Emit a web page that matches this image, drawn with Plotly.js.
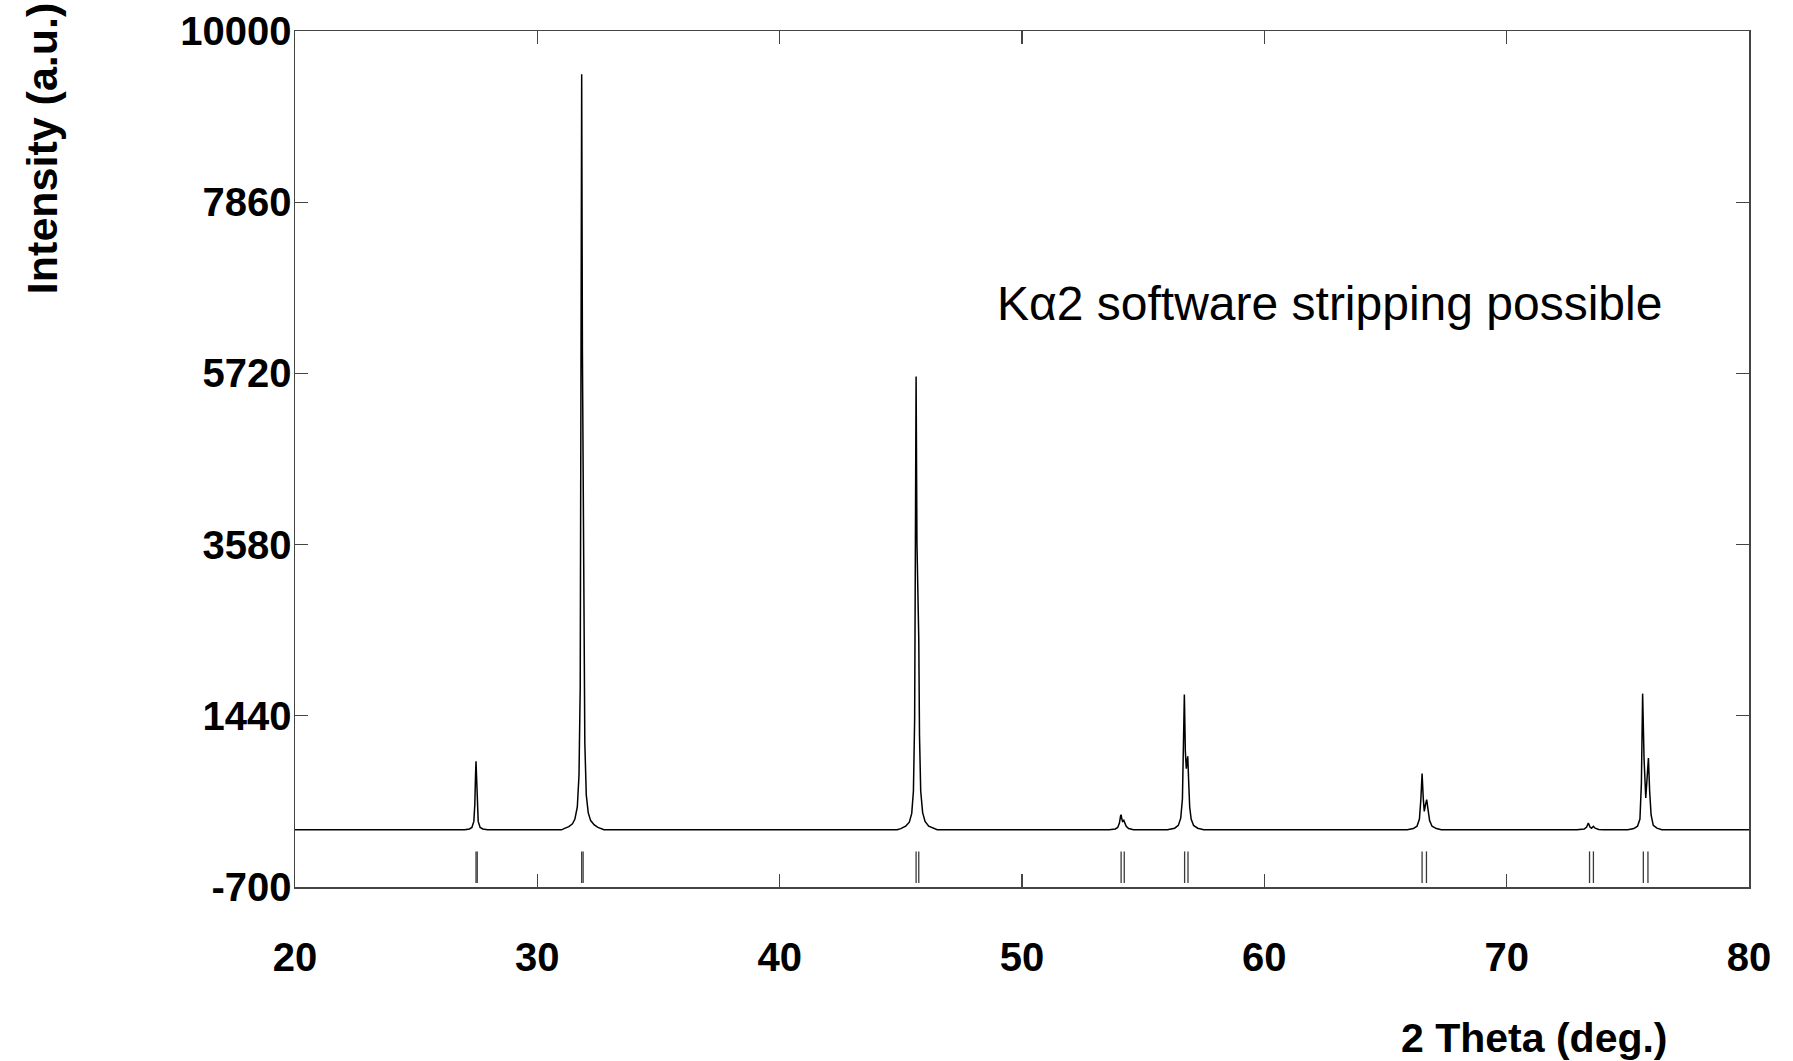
<!DOCTYPE html>
<html>
<head>
<meta charset="utf-8">
<script src="https://cdn.plot.ly/plotly-3.0.1.min.js"></script>
<style>
  html, body { margin: 0; padding: 0; background: #ffffff; }
  #chart { width: 1793px; height: 1061px; }
</style>
</head>
<body>
<div id="chart"></div>
<script>
// Measured diffraction pattern: 2θ (deg.) and intensity (a.u.)
const twoTheta = [
  20.0, 27.0, 27.2, 27.3, 27.38, 27.42, 27.45, 27.47, 27.49, 27.52, 27.56, 27.64, 27.75, 27.95,
  31.0, 31.1, 31.3, 31.45, 31.55, 31.65, 31.72, 31.77, 31.8, 31.83, 31.86, 31.89, 31.92, 31.96,
  32.02, 32.1, 32.2, 32.35, 32.5, 32.65, 32.75,
  44.85, 45.0, 45.2, 45.35, 45.45, 45.52, 45.57, 45.6, 45.63, 45.665, 45.69, 45.715, 45.74, 45.77,
  45.82, 45.9, 46.0, 46.15, 46.35, 46.5,
  53.6, 53.85, 53.95, 54.02, 54.07, 54.09, 54.12, 54.15, 54.2, 54.24, 54.3, 54.4, 54.6,
  56.0, 56.3, 56.45, 56.55, 56.62, 56.66, 56.7, 56.74, 56.78, 56.81, 56.84, 56.88, 56.92, 56.98,
  57.08, 57.25, 57.5,
  65.9, 66.15, 66.3, 66.4, 66.46, 66.51, 66.56, 66.6, 66.65, 66.7, 66.75, 66.82, 66.92, 67.1, 67.3,
  72.9, 73.2, 73.3, 73.37, 73.44, 73.5, 73.58, 73.65, 73.8, 74.0,
  75.0, 75.25, 75.4, 75.5, 75.56, 75.61, 75.67, 75.74, 75.79, 75.85, 75.9, 75.96, 76.05, 76.2, 76.4,
  80.0
];
const intensity = [
  15, 15, 25, 45, 120, 330, 700, 871, 700, 330, 120, 45, 25, 15,
  15, 30, 55, 90, 150, 300, 700, 1800, 5000, 9459, 6000, 4200, 2800, 1100,
  450, 230, 130, 75, 45, 30, 15,
  15, 30, 60, 110, 220, 500, 1400, 3500, 5682, 3600, 3150, 3181, 2400, 1200,
  500, 230, 120, 60, 30, 15,
  15, 25, 45, 100, 190, 204, 150, 120, 133, 110, 60, 30, 15,
  15, 35, 70, 160, 400, 1000, 1705, 1000, 780, 860, 933, 600, 300, 150,
  70, 35, 15,
  15, 30, 60, 150, 400, 717, 400, 245, 330, 392, 280, 130, 60, 30, 15,
  15, 25, 50, 100, 50, 35, 58, 35, 20, 15,
  15, 30, 60, 150, 600, 1717, 900, 413, 700, 913, 500, 200, 70, 35, 15,
  15
];

// Reference reflection positions (Kα1 / Kα2 pairs) shown as sticks below the pattern
const refPositions = [
  27.47, 27.52, 31.83, 31.89, 45.63, 45.74, 54.09, 54.22, 56.71, 56.85,
  66.51, 66.69, 73.42, 73.58, 75.64, 75.83
];
const refStickBottom = -650;
const refStickTop = -255;

// Axis ticks
const xTickVals = [20, 30, 40, 50, 60, 70, 80];
const xTickText = ['20', '30', '40', '50', '60', '70', '80'];
const yTickVals = [-700, 1440, 3580, 5720, 7860, 10000];
const yTickText = ['-700', '1440', '3580', '5720', '7860', '10000'];

const stickX = [];
const stickY = [];
refPositions.forEach(p => {
  stickX.push(p, p, null);
  stickY.push(refStickBottom, refStickTop, null);
});

const pattern = {
  x: twoTheta,
  y: intensity,
  type: 'scatter',
  mode: 'lines',
  line: { color: '#000000', width: 1.5 },
  hoverinfo: 'x+y'
};

const sticks = {
  x: stickX,
  y: stickY,
  type: 'scatter',
  mode: 'lines',
  line: { color: '#3a3a3a', width: 1.3 },
  hoverinfo: 'x'
};

const tickFont = { family: 'Liberation Sans, Arial, sans-serif', size: 40, color: '#000000', weight: 'bold' };

const layout = {
  width: 1793,
  height: 1061,
  margin: { l: 295, r: 44, t: 31, b: 174 },
  paper_bgcolor: '#ffffff',
  plot_bgcolor: '#ffffff',
  showlegend: false,
  xaxis: {
    range: [20, 80],
    tickmode: 'array',
    tickvals: xTickVals,
    ticktext: xTickText,
    ticks: 'inside',
    ticklen: 13,
    tickwidth: 1.3,
    tickcolor: '#444444',
    showline: true,
    linecolor: '#444444',
    linewidth: 1.5,
    mirror: 'ticks',
    showgrid: false,
    zeroline: false,
    tickfont: tickFont,
    ticklabelstandoff: 34
  },
  yaxis: {
    range: [-700, 10000],
    tickmode: 'array',
    tickvals: yTickVals,
    ticktext: yTickText,
    ticks: 'inside',
    ticklen: 13,
    tickwidth: 1.3,
    tickcolor: '#444444',
    showline: true,
    linecolor: '#444444',
    linewidth: 1.5,
    mirror: 'ticks',
    showgrid: false,
    zeroline: false,
    tickfont: tickFont,
    ticklabelstandoff: -6
  },
  annotations: [
    {
      text: 'Intensity (a.u.)',
      xref: 'paper', yref: 'paper',
      x: -0.174, y: 0.862,
      xanchor: 'center', yanchor: 'middle',
      textangle: -90,
      showarrow: false,
      font: { family: 'Liberation Sans, Arial, sans-serif', size: 43, color: '#000000', weight: 'bold' }
    },
    {
      text: '2 Theta (deg.)',
      xref: 'paper', yref: 'paper',
      x: 0.8528, y: -0.176,
      xanchor: 'center', yanchor: 'middle',
      showarrow: false,
      font: { family: 'Liberation Sans, Arial, sans-serif', size: 41, color: '#000000', weight: 'bold' }
    },
    {
      text: 'Kα2 software stripping possible',
      xref: 'x', yref: 'y',
      x: 48.89, y: 6595,
      xanchor: 'left', yanchor: 'middle',
      showarrow: false,
      font: { family: 'Liberation Sans, Arial, sans-serif', size: 48, color: '#000000' }
    }
  ]
};

Plotly.newPlot('chart', [pattern, sticks], layout, { displayModeBar: false, staticPlot: true });
</script>
</body>
</html>
